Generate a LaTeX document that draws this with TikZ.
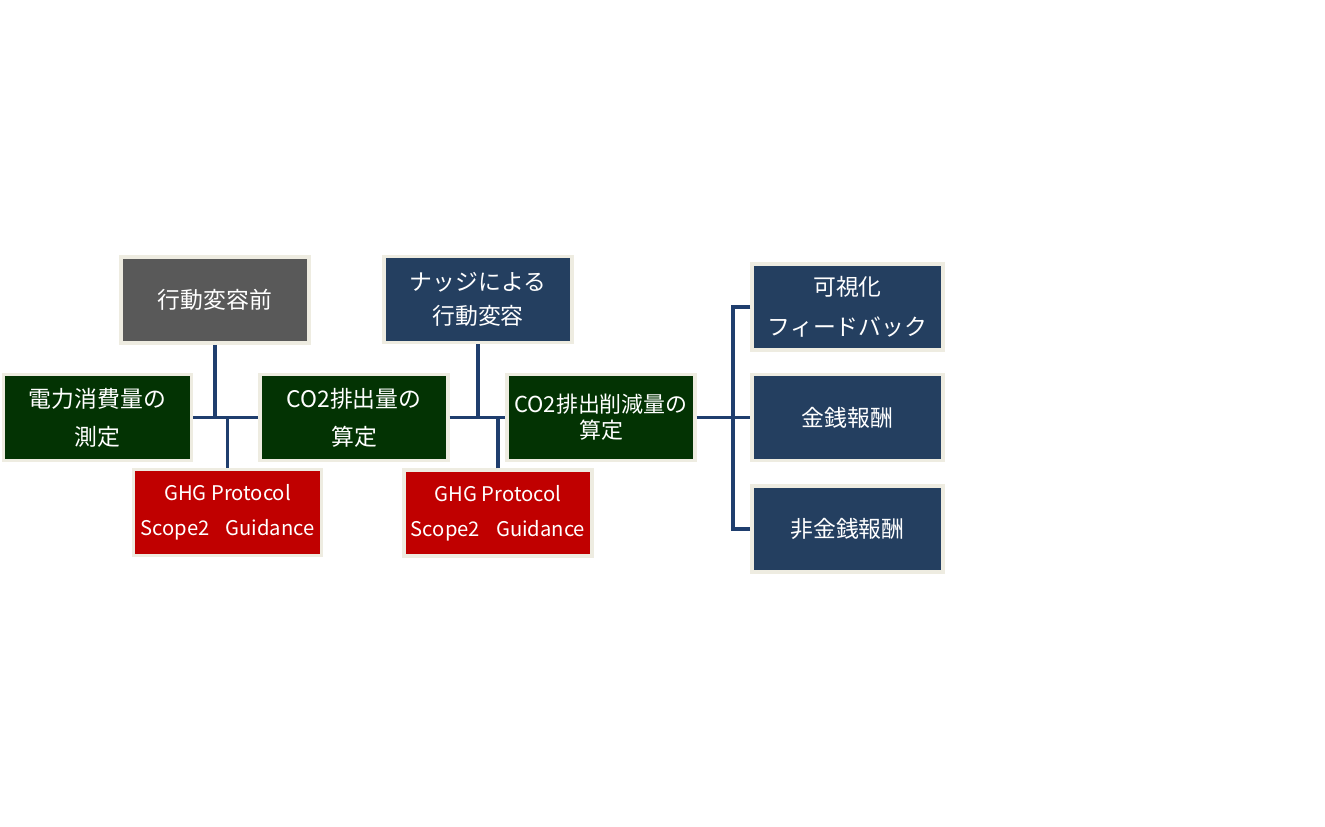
\documentclass[tikz,border=0pt]{standalone}
\usepackage{fontspec}
\setmainfont{Noto Sans CJK JP}
\usepackage{tikz}
\usepackage{xcolor}
\definecolor{framebeige}{RGB}{238,236,225}
\definecolor{stepgray}{RGB}{89,89,89}
\definecolor{stepgreen}{RGB}{3,51,3}
\definecolor{stepnavy}{RGB}{36,63,96}
\definecolor{stepred}{RGB}{192,0,0}
\definecolor{linknavy}{RGB}{31,62,110}

\begin{document}
\begin{tikzpicture}[
    x=0.02cm, y=-0.02cm,
    box/.style={rectangle, draw=framebeige, line width=2pt, text=white,
        minimum width=3.76cm, minimum height=1.72cm, align=center,
        inner sep=0pt, font=\fontsize{13}{21.5}\selectfont},
    graybox/.style={box, fill=stepgray},
    greenbox/.style={box, fill=stepgreen},
    navybox/.style={box, fill=stepnavy},
    redbox/.style={box, fill=stepred, font=\fontsize{11.5}{20}\selectfont},
    wide/.style={minimum width=3.82cm},
    link/.style={draw=linknavy, line width=2pt}
]
    \useasboundingbox (0,0) rectangle (1325,826);

    \node[graybox]  (prev)  at (215,300)     {行動変容前};
    \node[greenbox] (meas)  at (97.5,417.5)  {電力消費量の\\測定};
    \node[greenbox] (calc)  at (354,417.5)   {CO2排出量の\\算定};
    \node[redbox]   (ghgA)  at (227.5,512.5) {GHG Protocol\\Scope2\hspace{0.8em}Guidance};

    \node[navybox, font=\fontsize{13}{19.5}\selectfont] (nudge) at (478,299.5) {ナッジによる\\行動変容};
    \node[greenbox, font=\fontsize{12.5}{15}\selectfont] (redu) at (601,417.5) {CO2排出削減量の\\算定};
    \node[redbox]   (ghgB)  at (498,513)     {GHG Protocol\\Scope2\hspace{0.8em}Guidance};

    \node[navybox, wide, font=\fontsize{13}{22.5}\selectfont] (vis) at (847.5,307) {可視化\\フィードバック};
    \node[navybox, wide] (money) at (847.5,417.5) {金銭報酬};
    \node[navybox, wide] (nonm)  at (847.5,529)   {非金銭報酬};

    % before the nudge
    \draw[link] (meas) -- (calc);
    \draw[link] (prev) -- (prev |- meas);
    \draw[link] (ghgA) -- (ghgA |- meas);

    % after the nudge
    \draw[link] (calc) -- (redu);
    \draw[link] (nudge) -- (nudge |- redu);
    \draw[link] (ghgB) -- (ghgB |- redu);

    % incentives
    \draw[link] (redu) -- (money);
    \coordinate (bus) at (733,417.5);
    \draw[link] (vis.west) -| (bus) |- (nonm.west);
\end{tikzpicture}
\end{document}
